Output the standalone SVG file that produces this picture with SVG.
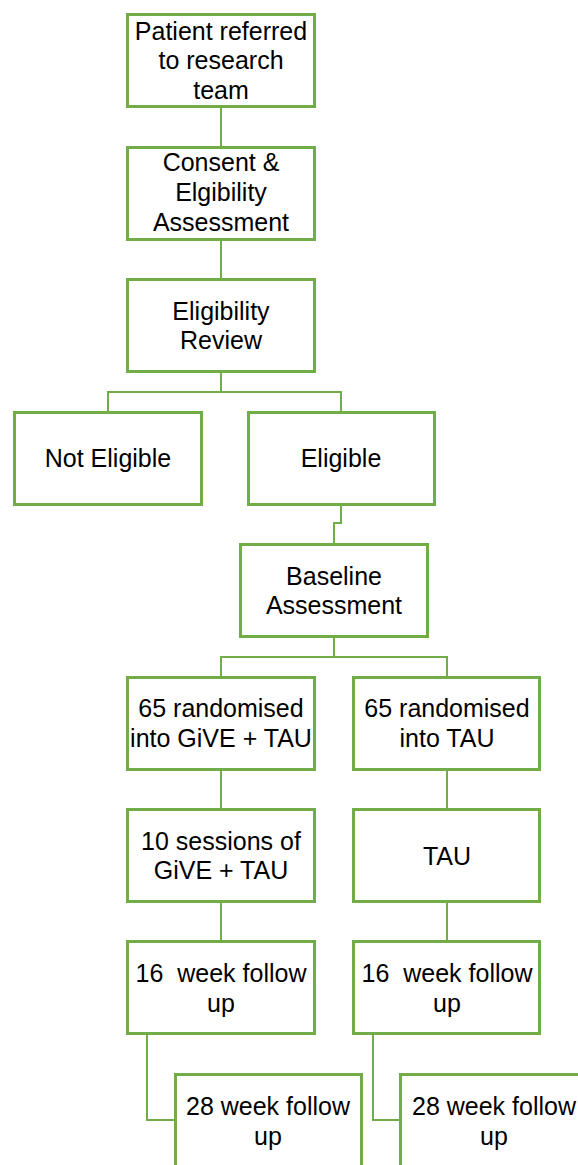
<svg xmlns="http://www.w3.org/2000/svg" width="578" height="1165" viewBox="0 0 578 1165">
<style>
.box{fill:#fff;stroke:#70AD47;stroke-width:3}
.con{fill:none;stroke:#70AD47;stroke-width:2}
text{font-family:"Liberation Sans",Arial,sans-serif;font-size:25px;fill:#000;text-anchor:middle}
</style>
<rect width="578" height="1165" fill="#fff"/>
<g id="connectors">
<path class="con" d="M221 107V147"/>
<path class="con" d="M221 240V279"/>
<path class="con" d="M221 372V392M108 412V392H341V412"/>
<path class="con" d="M341 505V523H334V544"/>
<path class="con" d="M334 637V657M221 677V657H447V677"/>
<path class="con" d="M221 770V809"/>
<path class="con" d="M447 770V809"/>
<path class="con" d="M221 902V941"/>
<path class="con" d="M447 902V941"/>
<path class="con" d="M147 1034V1120H175"/>
<path class="con" d="M373 1034V1120H400"/>
</g>
<g id="n1"><rect class="box" x="127.5" y="14.5" width="187" height="92"/><text x="221" y="39.5">Patient referred</text><text x="221" y="69">to research</text><text x="221" y="98.5">team</text></g>
<g id="n2"><rect class="box" x="127.5" y="147.5" width="187" height="92"/><text x="221" y="170.5">Consent &amp;</text><text x="221" y="201">Elgibility</text><text x="221" y="230.5">Assessment</text></g>
<g id="n3"><rect class="box" x="127.5" y="279.5" width="187" height="92"/><text x="221" y="319.5">Eligibility</text><text x="221" y="349">Review</text></g>
<g id="n4"><rect class="box" x="14.5" y="412.5" width="187" height="92"/><text x="108" y="467">Not Eligible</text></g>
<g id="n5"><rect class="box" x="248.5" y="412.5" width="186" height="92"/><text x="341" y="467">Eligible</text></g>
<g id="n6"><rect class="box" x="240.5" y="544.5" width="187" height="92"/><text x="334" y="584.5">Baseline</text><text x="334" y="614">Assessment</text></g>
<g id="n7"><rect class="box" x="127.5" y="677.5" width="187" height="92"/><text x="221" y="716.5">65 randomised</text><text x="221" y="746.5">into GiVE + TAU</text></g>
<g id="n8"><rect class="box" x="353.5" y="677.5" width="186" height="92"/><text x="447" y="716.5">65 randomised</text><text x="447" y="746.5">into TAU</text></g>
<g id="n9"><rect class="box" x="127.5" y="809.5" width="187" height="92"/><text x="221" y="849.5">10 sessions of</text><text x="221" y="878.5">GiVE + TAU</text></g>
<g id="n10"><rect class="box" x="353.5" y="809.5" width="186" height="92"/><text x="447" y="864.5">TAU</text></g>
<g id="n11"><rect class="box" x="127.5" y="941.5" width="187" height="92"/><text x="221" y="981.5" xml:space="preserve">16  week follow</text><text x="221" y="1011.5">up</text></g>
<g id="n12"><rect class="box" x="353.5" y="941.5" width="186" height="92"/><text x="447" y="981.5" xml:space="preserve">16  week follow</text><text x="447" y="1011.5">up</text></g>
<g id="n13"><rect class="box" x="175.5" y="1074.5" width="186" height="120"/><text x="268" y="1114.5">28 week follow</text><text x="268" y="1144.5">up</text></g>
<g id="n14"><rect class="box" x="400.5" y="1074.5" width="187" height="120"/><text x="494" y="1114.5">28 week follow</text><text x="494" y="1144.5">up</text></g>
</svg>
